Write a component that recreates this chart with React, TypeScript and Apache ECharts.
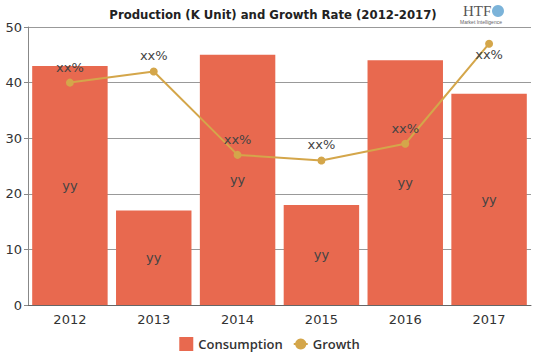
import React, { useEffect, useRef } from "react";
import * as echarts from "echarts";

const categories = ["2012", "2013", "2014", "2015", "2016", "2017"];
const consumption = [43, 17, 45, 18, 44, 38];
const growth = [40, 42, 27, 26, 29, 47];
const growthLabelBelow = [false, false, false, false, false, true];
const yTicks = { min: 0, max: 50, interval: 10 };

export default function App() {
  const ref = useRef<HTMLDivElement>(null);
  useEffect(() => {
    const chart = echarts.init(ref.current!, undefined, { renderer: "svg" });
    chart.setOption({
      animation: false,
      title: {
        text: "Production (K Unit) and Growth Rate (2012-2017)",
        left: 268,
        textAlign: "center",
        top: 3,
        textStyle: {
          fontFamily: "DejaVu Sans Condensed",
          fontWeight: "bold",
          fontSize: 13,
          color: "#222",
        },
      },
      graphic: [
        {
          type: "text",
          left: 463,
          top: 3,
          style: { text: "HTF", font: "15px 'Liberation Serif'", fill: "#555" },
        },
        {
          type: "circle",
          shape: { cx: 498, cy: 11, r: 6 },
          style: { fill: "#5aa0d0", opacity: 0.8 },
        },
        {
          type: "text",
          left: 460,
          top: 19,
          style: { text: "Market Intelligence", font: "5px sans-serif", fill: "#666" },
        },
      ],
      legend: {
        bottom: 3,
        left: "center",
        itemWidth: 14,
        itemHeight: 14,
        itemGap: 10,
        textStyle: { fontFamily: "Open Sans", fontWeight: 600, fontSize: 13, color: "#333" },
        data: [
          { name: "Consumption", icon: "rect" },
          { name: "Growth" },
        ],
      },
      grid: { left: 28, right: 8, top: 27, bottom: 54, containLabel: false },
      xAxis: {
        type: "category",
        data: categories,
        axisLine: { lineStyle: { color: "#666" } },
        axisTick: { alignWithLabel: true, lineStyle: { color: "#666" } },
        axisLabel: { color: "#333", fontSize: 13, fontFamily: "DejaVu Sans", margin: 8 },
      },
      yAxis: {
        type: "value",
        min: yTicks.min,
        max: yTicks.max,
        interval: yTicks.interval,
        axisLine: { show: true, lineStyle: { color: "#888" } },
        axisTick: { show: true, length: 4, lineStyle: { color: "#888" } },
        axisLabel: { color: "#333", fontSize: 13, fontFamily: "DejaVu Sans", margin: 6 },
        splitLine: { show: true, lineStyle: { color: "#999" } },
      },
      series: [
        {
          name: "Consumption",
          type: "bar",
          data: consumption,
          barCategoryGap: "10%",
          itemStyle: { color: "#e8694f" },
          label: {
            show: true,
            position: "inside",
            formatter: "yy",
            color: "#444",
            fontSize: 13,
            fontFamily: "DejaVu Sans",
          },
        },
        {
          name: "Growth",
          type: "line",
          data: growth.map((v, i) =>
            growthLabelBelow[i]
              ? { value: v, label: { position: "bottom", distance: 0 } }
              : v
          ),
          symbol: "circle",
          symbolSize: 8,
          itemStyle: { color: "#d4a64a" },
          lineStyle: { color: "#d4a64a", width: 2 },
          label: {
            show: true,
            position: "top",
            formatter: "xx%",
            color: "#444",
            fontSize: 13,
            fontFamily: "DejaVu Sans",
          },
        },
      ],
    });
    return () => chart.dispose();
  }, []);
  return <div ref={ref} style={{ width: 539, height: 359, position: "absolute", left: 0, top: 0 }} />;
}
